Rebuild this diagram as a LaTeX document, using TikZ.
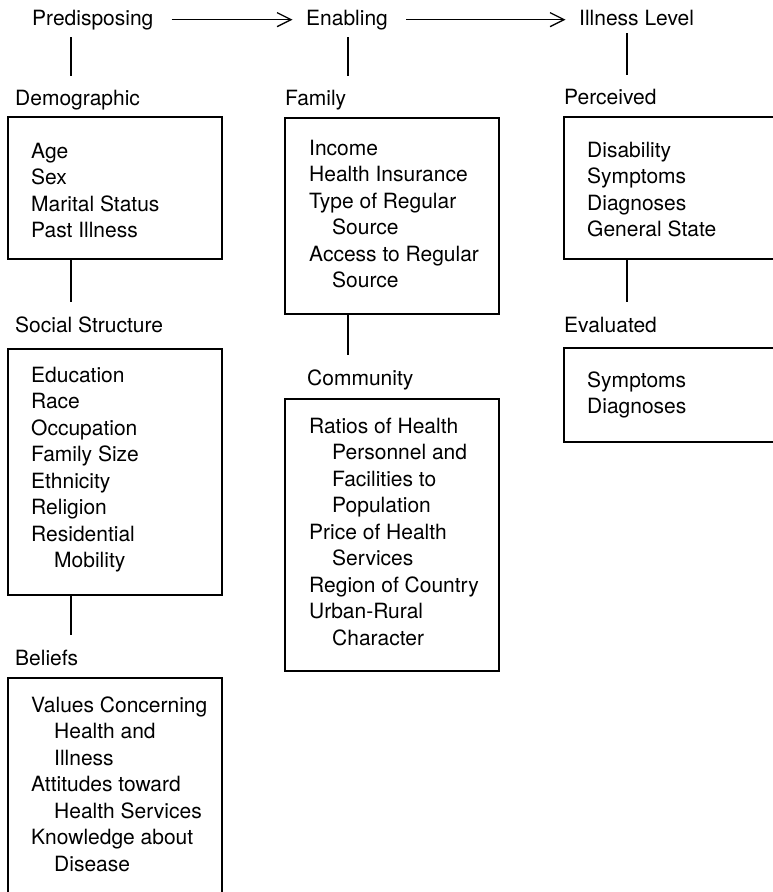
\documentclass[tikz,border=0pt]{standalone}
\usepackage{fontspec}
\setmainfont{TeX Gyre Heros}
\usetikzlibrary{positioning}
\usetikzlibrary{arrows.meta}

\newcommand{\cont}{\hspace*{23pt}}

\begin{document}
\begin{tikzpicture}[x = 1pt, y = -1pt,
	every node/.style = {font = \fontsize{21}{26.5}\selectfont, inner sep = 0pt},
	head/.style = {anchor = base west},
	items/.style = {anchor = base west},
	box/.style = {draw, line width = 2.2pt, anchor = north west, outer sep = 0pt, minimum width = 214pt},
	link/.style = {line width = 1.4pt},
	flow/.style = {line width = 1.3pt, -{Straight Barb[length = 14pt, width = 14pt]}, shorten <= 18pt, shorten >= 13.5pt}]
	\path [use as bounding box] (0, 0) rectangle (773, 892);
	\clip (0, 0) rectangle (773, 892);

	% top row
	\node [head] (pre) at (32, 25) {Predisposing};
	\node [head] (ena) at (306, 25) {Enabling};
	\node [head] (ill) at (579, 25) {Illness Level};
	\draw [flow] (pre.east) -- (ena.west |- pre.east);
	\draw [flow] (ena.east) -- (ill.west |- ena.east);

	% predisposing column
	\node [head] (demohead) at (15, 105) {Demographic};
	\node [box, minimum height = 142pt] (demo) at (8, 117) {};
	\node [items] (demotext) at (31, 158) {\begin{tabular}[t]{@{}l@{}}Age\\Sex\\Marital Status\\Past Illness\end{tabular}};
	\node [head] (sochead) at (15, 332) {Social Structure};
	\node [box, minimum height = 246pt] (soc) at (8, 349) {};
	\node [items] (soctext) at (31, 382) {\begin{tabular}[t]{@{}l@{}}Education\\Race\\Occupation\\Family Size\\Ethnicity\\Religion\\Residential\\\cont Mobility\end{tabular}};
	\node [head] (belhead) at (15, 665) {Beliefs};
	\node [box, minimum height = 240pt] (bel) at (8, 678) {};
	\node [items] (beltext) at (31, 712) {\begin{tabular}[t]{@{}l@{}}Values Concerning\\\cont Health and\\\cont Illness\\Attitudes toward\\\cont Health Services\\Knowledge about\\\cont Disease\end{tabular}};

	% enabling column
	\node [head] (famhead) at (285, 105) {Family};
	\node [box, minimum height = 196pt] (fam) at (285, 118) {};
	\node [items] (famtext) at (309, 155) {\begin{tabular}[t]{@{}l@{}}Income\\Health Insurance\\Type of Regular\\\cont Source\\Access to Regular\\\cont Source\end{tabular}};
	\node [head] (comhead) at (307, 385) {Community};
	\node [box, minimum height = 272pt] (com) at (285, 399) {};
	\node [items] (comtext) at (309, 433) {\begin{tabular}[t]{@{}l@{}}Ratios of Health\\\cont Personnel and\\\cont Facilities to\\\cont Population\\Price of Health\\\cont Services\\Region of Country\\Urban-Rural\\\cont Character\end{tabular}};

	% illness level column
	\node [head] (perhead) at (564, 104) {Perceived};
	\node [box, minimum width = 240pt, minimum height = 142pt] (per) at (564, 117) {};
	\node [items] (pertext) at (587, 157) {\begin{tabular}[t]{@{}l@{}}Disability\\Symptoms\\Diagnoses\\General State\end{tabular}};
	\node [head] (evahead) at (564, 332) {Evaluated};
	\node [box, minimum width = 240pt, minimum height = 94pt] (eva) at (564, 348) {};
	\node [items] (evatext) at (587, 387) {\begin{tabular}[t]{@{}l@{}}Symptoms\\Diagnoses\end{tabular}};

	% links from the headings
	\draw [link, shorten <= 7.5pt, shorten >= 13pt] ([xshift = 63pt] demo.north west |- pre.south) -- ([xshift = 63pt] demo.north west |- demohead.north);
	\draw [link, shorten <= 7.5pt, shorten >= 13pt] ([xshift = 63pt] fam.north west |- ena.south) -- ([xshift = 63pt] fam.north west |- famhead.north);
	\draw [link, shorten <= 7.5pt, shorten >= 13pt] ([xshift = 63pt] per.north west |- ill.south) -- ([xshift = 63pt] per.north west |- perhead.north);

	% links between the boxes
	\draw [link, shorten >= 14.5pt] ([xshift = 63pt] demo.south west) -- ([xshift = 63pt] demo.south west |- sochead.north);
	\draw [link, shorten >= 14.5pt] ([xshift = 63pt] soc.south west) -- ([xshift = 63pt] soc.south west |- belhead.north);
	\draw [link, shorten >= 14.5pt] ([xshift = 63pt] fam.south west) -- ([xshift = 63pt] fam.south west |- comhead.north);
	\draw [link, shorten >= 14.5pt] ([xshift = 63pt] per.south west) -- ([xshift = 63pt] per.south west |- evahead.north);
\end{tikzpicture}
\end{document}
